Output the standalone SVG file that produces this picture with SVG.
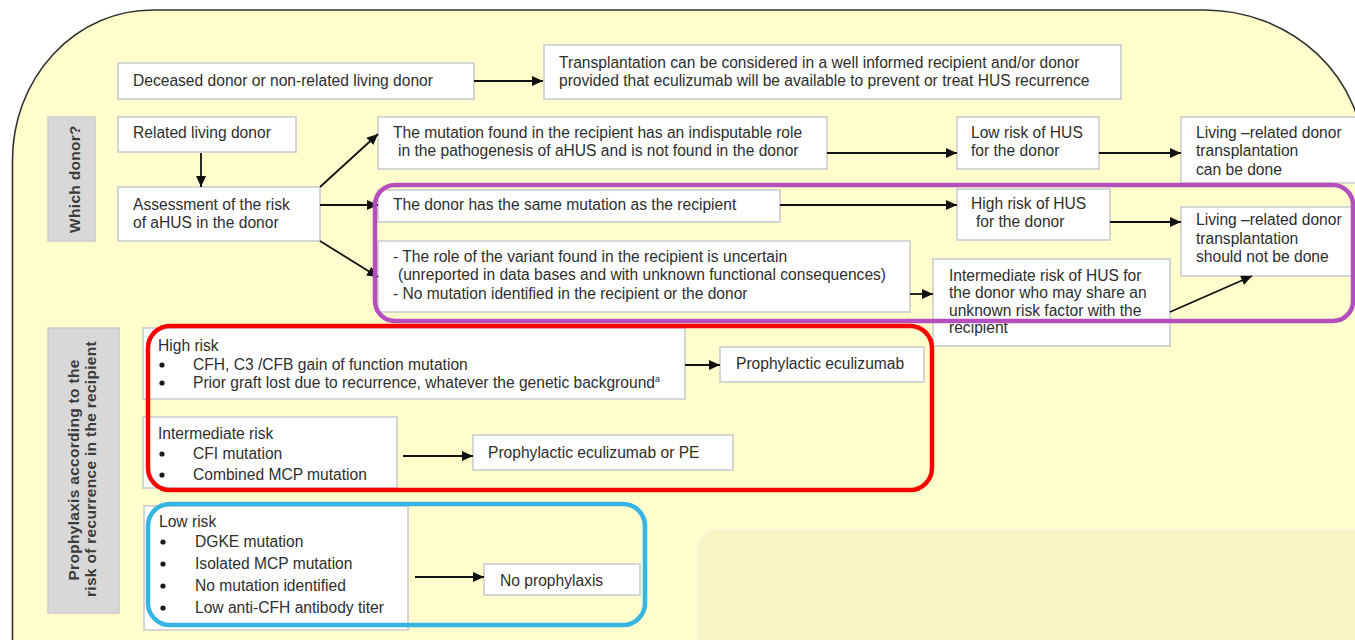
<svg xmlns="http://www.w3.org/2000/svg" width="1355" height="640" viewBox="0 0 1355 640">
<defs>
<marker id="ah" markerUnits="userSpaceOnUse" markerWidth="12" markerHeight="10" refX="11" refY="5" orient="auto">
<path d="M0,0 L11,5 L0,10 z" fill="#111"/>
</marker>
<clipPath id="npclip"><rect x="480" y="560" width="170" height="29"/></clipPath>
<style>
.bg{fill:#fefdcb;stroke:#333333;stroke-width:1.6}
.pale{fill:#f8f5c2;stroke:#fbfadc;stroke-width:1.5}
.box{fill:#ffffff;stroke:#d2d2d2;stroke-width:1.8}
.gray{fill:#d8d8d8;stroke:#cacaca;stroke-width:1.5}
.t{font-family:"Liberation Sans",Arial,sans-serif;font-size:15.6px;fill:#2e2e2e}
.b{fill:#1a1a1a}
.vt{font-family:"Liberation Sans",Arial,sans-serif;font-size:15.5px;font-weight:bold;fill:#3c3c3c;text-anchor:middle;letter-spacing:0.3px}
.c{fill:none;stroke:#111;stroke-width:1.8;marker-end:url(#ah)}
.hl{fill:none;stroke-width:4.5}
</style>
</defs>
<path class="bg" d="M12.5,710 L12.5,160 A140,150 0 0 1 152.5,10 L1204,10 A160,150 0 0 1 1364,160 L1364,710 Z"/>
<rect class="pale" x="697" y="529" width="700" height="160" rx="20"/>

<g id="label-which-donor">
<rect class="gray" x="48" y="117" width="47" height="124"/>
<text class="vt" transform="translate(80,179) rotate(-90)">Which donor?</text>
</g>
<g id="label-prophylaxis">
<rect class="gray" x="48" y="328" width="71" height="285"/>
<text class="vt" transform="translate(79,470) rotate(-90)">Prophylaxis according to the</text>
<text class="vt" transform="translate(96,469) rotate(-90)">risk of recurrence in the recipient</text>
</g>

<g id="n-deceased">
<rect class="box" x="118" y="63" width="356" height="36"/>
<text class="t" x="133" y="86">Deceased donor or non-related living donor</text>
</g>
<g id="n-transplant-considered">
<rect class="box" x="544" y="45" width="577" height="54"/>
<text class="t" x="559" y="68">Transplantation can be considered in a well informed recipient and/or donor</text>
<text class="t" x="559" y="86">provided that eculizumab will be available to prevent or treat HUS recurrence</text>
</g>
<g id="n-related">
<rect class="box" x="118" y="117" width="178" height="35"/>
<text class="t" x="133" y="138">Related living donor</text>
</g>
<g id="n-assessment">
<rect class="box" x="118" y="187" width="202" height="54"/>
<text class="t" x="133" y="210">Assessment of the risk</text>
<text class="t" x="133" y="228">of aHUS in the donor</text>
</g>
<g id="n-mutation-indisputable">
<rect class="box" x="378" y="117" width="449" height="52"/>
<text class="t" x="393" y="138">The mutation found in the recipient has an indisputable role</text>
<text class="t" x="398" y="156">in the pathogenesis of aHUS and is not found in the donor</text>
</g>
<g id="n-low-risk-donor">
<rect class="box" x="957" y="117" width="142" height="52"/>
<text class="t" x="971" y="138">Low risk of HUS</text>
<text class="t" x="971" y="156">for the donor</text>
</g>
<g id="n-can-be-done">
<rect class="box" x="1181" y="117" width="180" height="66"/>
<text class="t" x="1196" y="138">Living –related donor</text>
<text class="t" x="1196" y="156">transplantation</text>
<text class="t" x="1196" y="175">can be done</text>
</g>
<g id="n-same-mutation">
<rect class="box" x="378" y="190" width="402" height="32"/>
<text class="t" x="393" y="210">The donor has the same mutation as the recipient</text>
</g>
<g id="n-high-risk-donor">
<rect class="box" x="957" y="189" width="153" height="51"/>
<text class="t" x="971" y="209">High risk of HUS</text>
<text class="t" x="976" y="227">for the donor</text>
</g>
<g id="n-should-not">
<rect class="box" x="1181" y="207" width="180" height="69"/>
<text class="t" x="1196" y="225">Living –related donor</text>
<text class="t" x="1196" y="244">transplantation</text>
<text class="t" x="1196" y="262">should not be done</text>
</g>
<g id="n-uncertain">
<rect class="box" x="378" y="241" width="532" height="71"/>
<text class="t" x="393" y="262">- The role of the variant found in the recipient is uncertain</text>
<text class="t" x="398" y="280">(unreported in data bases and with unknown functional consequences)</text>
<text class="t" x="393" y="299">- No mutation identified in the recipient or the donor</text>
</g>
<g id="n-intermediate-donor">
<rect class="box" x="933" y="259" width="237" height="87"/>
<text class="t" x="949" y="281">Intermediate risk of HUS for</text>
<text class="t" x="949" y="298">the donor who may share an</text>
<text class="t" x="949" y="316">unknown risk factor with the</text>
<text class="t" x="949" y="333">recipient</text>
</g>

<g id="n-high-risk">
<rect class="box" x="143" y="328" width="542" height="71"/>
<text class="t" x="158" y="351">High risk</text>
<circle class="b" cx="162" cy="365" r="2.6"/>
<text class="t" x="193" y="370">CFH, C3 /CFB gain of function mutation</text>
<circle class="b" cx="162" cy="383" r="2.6"/>
<text class="t" x="193" y="388">Prior graft lost due to recurrence, whatever the genetic background<tspan font-size="9" dy="-6">a</tspan></text>
</g>
<g id="n-prophylactic-ecu">
<rect class="box" x="720" y="347" width="204" height="35"/>
<text class="t" x="736" y="369">Prophylactic eculizumab</text>
</g>
<g id="n-intermediate-risk">
<rect class="box" x="143" y="417" width="254" height="71"/>
<text class="t" x="158" y="439">Intermediate risk</text>
<circle class="b" cx="162" cy="454" r="2.6"/>
<text class="t" x="193" y="459">CFI mutation</text>
<circle class="b" cx="162" cy="475" r="2.6"/>
<text class="t" x="193" y="480">Combined MCP mutation</text>
</g>
<g id="n-prophylactic-pe">
<rect class="box" x="473" y="435" width="260" height="35"/>
<text class="t" x="488" y="458">Prophylactic eculizumab or PE</text>
</g>
<g id="n-low-risk">
<rect class="box" x="144" y="506" width="264" height="124"/>
<text class="t" x="159" y="527">Low risk</text>
<circle class="b" cx="163" cy="542" r="2.6"/>
<text class="t" x="195" y="547">DGKE mutation</text>
<circle class="b" cx="163" cy="564" r="2.6"/>
<text class="t" x="195" y="569">Isolated MCP mutation</text>
<circle class="b" cx="163" cy="586" r="2.6"/>
<text class="t" x="195" y="591">No mutation identified</text>
<circle class="b" cx="163" cy="608" r="2.6"/>
<text class="t" x="195" y="613">Low anti-CFH antibody titer</text>
</g>
<g id="n-no-prophylaxis">
<rect class="box" x="484" y="564" width="156" height="31"/>
<text class="t" x="500" y="586" clip-path="url(#npclip)">No prophylaxis</text>
</g>

<g id="connectors">
<line class="c" x1="474" y1="81" x2="543" y2="81"/>
<line class="c" x1="201" y1="153" x2="201" y2="187"/>
<line class="c" x1="320" y1="187" x2="378" y2="134"/>
<line class="c" x1="320" y1="205" x2="378" y2="205"/>
<line class="c" x1="320" y1="241" x2="378" y2="277"/>
<line class="c" x1="827" y1="153" x2="957" y2="153"/>
<line class="c" x1="1099" y1="153" x2="1181" y2="153"/>
<line class="c" x1="780" y1="205" x2="957" y2="205"/>
<line class="c" x1="1110" y1="222" x2="1181" y2="222"/>
<line class="c" x1="910" y1="294" x2="933" y2="294"/>
<line class="c" x1="1170" y1="312" x2="1252" y2="276"/>
<line class="c" x1="685" y1="365" x2="720" y2="365"/>
<line class="c" x1="403" y1="456" x2="473" y2="456"/>
<line class="c" x1="415" y1="577" x2="484" y2="577"/>
</g>

<g id="highlights">
<rect class="hl" x="375" y="185" width="978" height="136" rx="20" stroke="#b54fc0"/>
<rect class="hl" x="148" y="326" width="784" height="164" rx="22" stroke="#ff0000"/>
<rect class="hl" x="148" y="504" width="497" height="121" rx="22" stroke="#36b4e4"/>
</g>
</svg>
